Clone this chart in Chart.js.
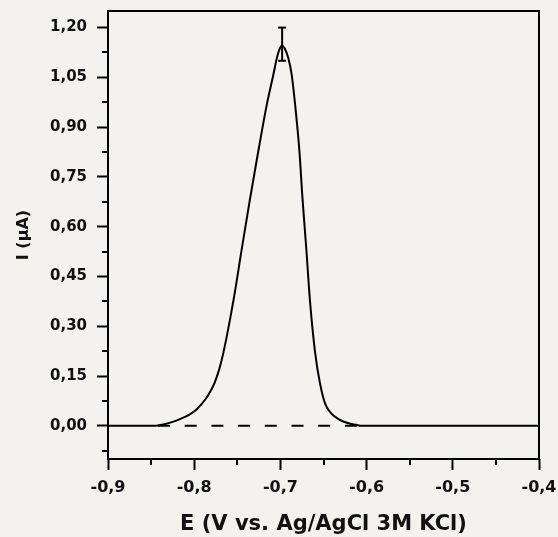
<!DOCTYPE html>
<html>
<head>
<meta charset="utf-8">
<script src="https://cdn.jsdelivr.net/npm/chart.js@4/dist/chart.umd.min.js"></script>
<style>
  html, body { margin: 0; padding: 0; background: #f3f2ec; }
  canvas { display: block; }
</style>
</head>
<body>
<canvas id="voltChart" width="558" height="537"></canvas>
<script>
// potential (V) and current (uA)
const potential = [-0.90, -0.845, -0.836, -0.826, -0.816, -0.806, -0.797, -0.787, -0.781, -0.776, -0.771, -0.766, -0.754, -0.745, -0.7355, -0.7256, -0.716, -0.708, -0.7044, -0.701, -0.698,
  -0.695, -0.691, -0.687, -0.683, -0.678, -0.6745, -0.670, -0.6657, -0.660, -0.654, -0.648, -0.6405, -0.633, -0.627, -0.620, -0.612, -0.606, -0.40];
const current = [0, 0, 0.004, 0.011, 0.021, 0.033, 0.050, 0.080, 0.105, 0.132, 0.17, 0.222, 0.385, 0.53, 0.68, 0.828, 0.965, 1.06, 1.105, 1.135, 1.146,
  1.137, 1.11, 1.06, 0.97, 0.83, 0.69, 0.535, 0.377, 0.226, 0.127, 0.066, 0.036, 0.021, 0.013, 0.007, 0.003, 0, 0];

// dashed baseline under the peak
const baseX = [-0.842, -0.611];
const baseY = [0, 0];

// error bar at the peak
const errX = -0.698;
const errY = [1.10, 1.20];

const xTicks = [-0.9, -0.8, -0.7, -0.6, -0.5, -0.4];
const xMinor = [-0.85, -0.75, -0.65, -0.55, -0.45];
const yTicks = [0, 0.15, 0.30, 0.45, 0.60, 0.75, 0.90, 1.05, 1.20];
const yMinor = [-0.075, 0.075, 0.225, 0.375, 0.525, 0.675, 0.825, 0.975, 1.125];

const BG = '#f3f2ec';
const FONT = 'DejaVu Sans';

const bgPlugin = {
  id: 'bg',
  beforeDraw(chart) {
    const ctx = chart.ctx;
    ctx.save();
    ctx.fillStyle = BG;
    ctx.fillRect(0, 0, chart.width, chart.height);
    ctx.restore();
  }
};

// box round the plot plus the short minor ticks
const framePlugin = {
  id: 'frame',
  afterDraw(chart) {
    const { ctx, chartArea: a, scales } = chart;
    ctx.save();
    ctx.strokeStyle = '#000';
    ctx.lineWidth = 2;
    ctx.strokeRect(a.left, a.top, a.right - a.left, a.bottom - a.top);
    ctx.beginPath();
    xMinor.forEach(v => {
      const px = Math.round(scales.x.getPixelForValue(v));
      ctx.moveTo(px, a.bottom);
      ctx.lineTo(px, a.bottom + 6);
    });
    yMinor.forEach(v => {
      const py = Math.round(scales.y.getPixelForValue(v));
      ctx.moveTo(a.left, py);
      ctx.lineTo(a.left - 6, py);
    });
    ctx.stroke();
    ctx.restore();
  }
};

const tickGrid = {
  display: true,
  drawOnChartArea: false,
  drawTicks: true,
  tickLength: 11,
  tickWidth: 2,
  tickColor: '#000'
};

new Chart(document.getElementById('voltChart'), {
  type: 'line',
  data: {
    datasets: [
      {
        data: baseX.map((x, i) => ({ x: x, y: baseY[i] })),
        borderColor: '#000',
        borderWidth: 2,
        borderDash: [12, 14.7],
        pointRadius: 0
      },
      {
        data: potential.map((x, i) => ({ x: x, y: current[i] })),
        borderColor: '#000',
        borderWidth: 2,
        cubicInterpolationMode: 'monotone',
        pointRadius: 0
      },
      {
        data: errY.map(y => ({ x: errX, y: y })),
        borderColor: '#000',
        borderWidth: 2,
        pointStyle: 'line',
        pointRadius: 4,
        pointBorderColor: '#000',
        pointBorderWidth: 2
      }
    ]
  },
  options: {
    responsive: false,
    animation: false,
    layout: { padding: { top: 11, right: 19, left: 0, bottom: 0 } },
    plugins: {
      legend: { display: false },
      tooltip: { enabled: false }
    },
    scales: {
      x: {
        type: 'linear',
        min: -0.9,
        max: -0.4,
        afterBuildTicks: s => { s.ticks = xTicks.map(v => ({ value: v })); },
        afterFit: s => { s.height = 78; s.paddingLeft = 0; s.paddingRight = 0; },
        grid: tickGrid,
        border: { display: false },
        ticks: {
          color: '#111',
          padding: 8,
          maxRotation: 0,
          font: { family: FONT, size: 16, weight: 'bold' },
          callback: v => v.toFixed(1).replace('.', ',')
        },
        title: {
          display: true,
          text: 'E (V vs. Ag/AgCl 3M KCl)',
          color: '#111',
          padding: { top: 0, bottom: 0 },
          font: { family: FONT, size: 21, weight: 'bold' }
        }
      },
      y: {
        type: 'linear',
        min: -0.1,
        max: 1.25,
        afterBuildTicks: s => { s.ticks = yTicks.map(v => ({ value: v })); },
        afterFit: s => { s.width = 108; s.paddingTop = 0; s.paddingBottom = 0; },
        grid: tickGrid,
        border: { display: false },
        ticks: {
          color: '#111',
          padding: 10,
          font: { family: FONT, size: 15, weight: 'bold' },
          callback: v => v.toFixed(2).replace('.', ',')
        },
        title: {
          display: true,
          text: 'I (µA)',
          color: '#111',
          padding: { top: 14, bottom: 0 },
          font: { family: FONT, size: 16, weight: 'bold' }
        }
      }
    }
  },
  plugins: [bgPlugin, framePlugin]
});
</script>
</body>
</html>
